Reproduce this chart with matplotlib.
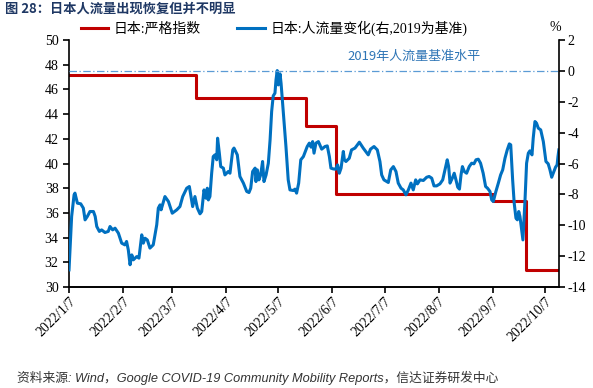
import numpy as np
import pandas as pd
import matplotlib
matplotlib.use('Agg')
import matplotlib.pyplot as plt

plt.rcParams['font.family'] = ['Liberation Serif', 'Noto Sans CJK SC']
plt.rcParams['axes.unicode_minus'] = False

start = pd.Timestamp('2022-01-07')

# stringency index (left axis), step changes
stringency_dates = ['2022-01-07', '2022-03-21', '2022-05-23', '2022-06-09', '2022-09-07', '2022-09-26', '2022-10-15']
stringency_values = [47.2, 45.3, 43.0, 37.5, 37.0, 31.4, 31.4]

# mobility change vs 2019 (right axis, %), day offsets from 2022/1/7
mob_days = [0, 1.5, 2.9, 3.4, 4.8, 6.7, 8.2, 9.2, 10.5, 12, 14, 15, 15.9, 17.4, 18.7, 20.6, 22.5, 23.5,
            25, 26.4, 28.3, 30.2, 32, 33, 34, 35, 36, 36.9, 38.8, 40.1, 41.7, 42.6, 43.6, 44.9, 46.4,
            48.3, 50.3, 51.2, 52.2, 52.8, 55, 57, 59.2, 61.8, 63.6, 65.2, 67.5, 69, 70.9, 72.2, 73.6,
            75.1, 76.1, 77.4, 78.6, 79.3, 79.9, 80.8, 81.8, 82.7, 83.7, 84.7, 85.2, 86.2, 87, 88.5,
            89.4, 91.3, 92.3, 93.9, 94.6, 96.5, 98, 100, 101.9, 103.2, 104.2, 105.3, 106.7, 107.2,
            108, 108.9, 109.9, 111, 111.8, 113, 114.3, 115.3, 116.2, 117.1, 118.1, 118.7, 119.4, 120,
            121, 121.6, 122.9, 124.4, 125.7, 126.7, 128.6, 129.6, 130.5, 131.7, 132.9, 134.4, 136.6,
            137.8, 138.8, 139.7, 140.5, 141.6, 143, 144.9, 146.8, 148.1, 149.3, 150.2, 151.5, 152.9,
            154, 155, 156, 157.3, 157.9, 158.8, 160.7, 162, 164, 166.5, 168.7, 171.6, 172.9, 174.9,
            176.8, 178.3, 179.3, 180.6, 183.1, 184.5, 186, 187.5, 188.8, 190.4, 191.7, 193.2, 194.6,
            196.1, 197.4, 198.8, 199.8, 201.3, 203.2, 205.1, 206.5, 208, 209.3, 210.8, 212.7, 214.3,
            215.6, 216.9, 217.7, 218.5, 219.8, 220.9, 221.9, 222.9, 223.9, 224.8, 225.6, 226.7, 228,
            229.5, 230.9, 232.2, 233.4, 234.7, 236, 237.5, 238.9, 240, 241.4, 242.4, 243.3, 244.8,
            246.2, 247.5, 248.7, 250, 251.3, 252.5, 253.3, 254.4, 255.3, 256.3, 257.1, 257.9, 258.6,
            259.3, 260.3, 261.5, 262.4, 263.4, 264.3, 265.5, 266.2, 267.2, 268.1, 269.1, 270.5, 272,
            273.5, 274.8, 275.8, 276.8, 277.7, 279, 279.9, 280.4, 280.9]
mob_values = [-12.89, -9.43, -8.03, -7.92, -8.57, -8.61, -8.89, -9.65, -9.43, -9.11, -9.11, -9.43, -10.08,
              -10.4, -10.3, -10.47, -10.4, -10.08, -10.3, -10.19, -10.51, -11.16, -11.27, -11.05, -11.6,
              -12.56, -11.92, -12.24, -12.03, -12.13, -10.62, -11.16, -10.84, -10.95, -11.48, -11.27,
              -9.97, -8.89, -8.68, -9.0, -8.14, -8.46, -9.22, -9.0, -8.79, -8.14, -7.6, -7.49, -8.79,
              -8.14, -8.89, -9.26, -9.11, -7.71, -8.25, -7.6, -8.36, -8.14, -6.63, -5.55, -5.44, -5.76,
              -4.36, -5.33, -6.2, -6.3, -6.74, -6.52, -6.63, -5.12, -5.0, -5.44, -6.84, -7.27, -7.81,
              -7.88, -7.6, -6.52, -6.3, -7.17, -6.41, -7.06, -6.74, -5.87, -7.17, -6.74, -5.98, -4.47,
              -2.63, -1.62, -1.44, -0.58, 0.02, -0.91, -0.19, -0.8, -2.74, -4.9, -7.06, -7.71, -7.75,
              -7.66, -7.92, -7.27, -5.76, -5.55, -4.9, -4.68, -4.94, -4.58, -5.33, -4.68, -4.58, -5.07,
              -4.9, -4.86, -5.55, -6.3, -6.35, -6.37, -6.09, -6.63, -6.3, -5.22, -5.76, -5.87, -5.66,
              -5.12, -5.0, -4.62, -5.0, -5.44, -5.07, -4.9, -5.12, -5.87, -6.74, -7.06, -7.23, -6.41,
              -6.2, -6.52, -7.27, -7.6, -7.71, -8.03, -7.71, -7.27, -7.71, -7.06, -7.32, -7.06, -7.1,
              -6.89, -6.84, -6.95, -7.45, -7.45, -7.32, -7.06, -6.41, -5.76, -6.2, -7.27, -6.95, -6.63,
              -7.06, -7.53, -7.66, -6.74, -6.2, -6.52, -6.63, -6.2, -5.98, -6.02, -5.76, -5.72, -5.98,
              -6.63, -7.49, -7.6, -7.81, -8.36, -8.46, -7.81, -7.27, -6.74, -6.41, -5.66, -5.12, -4.73,
              -4.79, -7.06, -8.57, -9.54, -9.65, -9.11, -9.43, -10.08, -10.95, -8.36, -5.98, -5.33,
              -5.18, -5.44, -4.36, -3.28, -3.39, -3.71, -3.82, -4.58, -5.87, -6.02, -6.41, -6.89, -6.63,
              -6.24, -6.09, -5.55, -5.12]

tick_dates = ['2022-%02d-07' % m for m in range(1, 11)]
tick_labels = ['2022/%d/7' % m for m in range(1, 11)]

fig = plt.figure(figsize=(5.93, 3.88), dpi=100)
ax = fig.add_axes([0.1164, 0.2603, 0.8263, 0.6366])
ax2 = ax.twinx()

s_dates = pd.to_datetime(stringency_dates)
l1, = ax.plot(s_dates, stringency_values, drawstyle='steps-post', color='#C00000', lw=2.2,
              label='日本:严格指数')

m_dates = start + pd.to_timedelta(np.array(mob_days), unit='D')
l2, = ax2.plot(m_dates, mob_values, color='#0070C0', lw=2.2, label='日本:人流量变化(右,2019为基准)')
ax2.axhline(0, color='#5B9BD5', lw=0.9, ls=(0, (6, 2, 1, 2)))
ax2.text(pd.Timestamp('2022-07-24'), 0.5, '2019年人流量基准水平', color='#2E75B6', fontsize=9.4,
         ha='center', va='bottom', family=['Noto Sans CJK SC'])

ax.set_xlim(start, pd.Timestamp('2022-10-15'))
ax.set_ylim(30, 50)
ax.set_yticks(np.arange(30, 51, 2))
ax2.set_ylim(-14, 2)
ax2.set_yticks(np.arange(-14, 3, 2))
ax.set_xticks(pd.to_datetime(tick_dates))
ax.set_xticklabels(tick_labels, rotation=45, ha='right', rotation_mode='anchor')

for a in (ax, ax2):
    a.spines['top'].set_visible(False)
    for sp in a.spines.values():
        sp.set_linewidth(1.2)
    a.tick_params(direction='out', length=4, width=1.2, labelsize=10)
ax2.spines['left'].set_visible(False)
ax.spines['right'].set_visible(False)
ax.tick_params(axis='x', pad=2)
ax2.tick_params(axis='y', pad=2)

fig.legend(handles=[l1, l2], loc='center', bbox_to_anchor=(0.462, 0.928), ncol=2, frameon=False,
           fontsize=10, handlelength=2, columnspacing=2.6, handletextpad=0.4)
fig.text(0.937, 0.93, '%', fontsize=10, ha='center', va='center')

fig.text(0.008, 0.978, '图 28：日本人流量出现恢复但并不明显', fontsize=9.5, fontweight='bold',
         color='#1F3864', ha='left', va='center', family=['Noto Sans CJK SC'])
fig.text(0.028, 0.027, '资料来源: Wind，Google COVID-19 Community Mobility Reports，信达证券研发中心',
         fontsize=9.2, style='italic', color='#333333', ha='left', va='center',
         family=['Liberation Sans', 'Noto Sans CJK SC'])

fig.savefig('out.png', dpi=100)
